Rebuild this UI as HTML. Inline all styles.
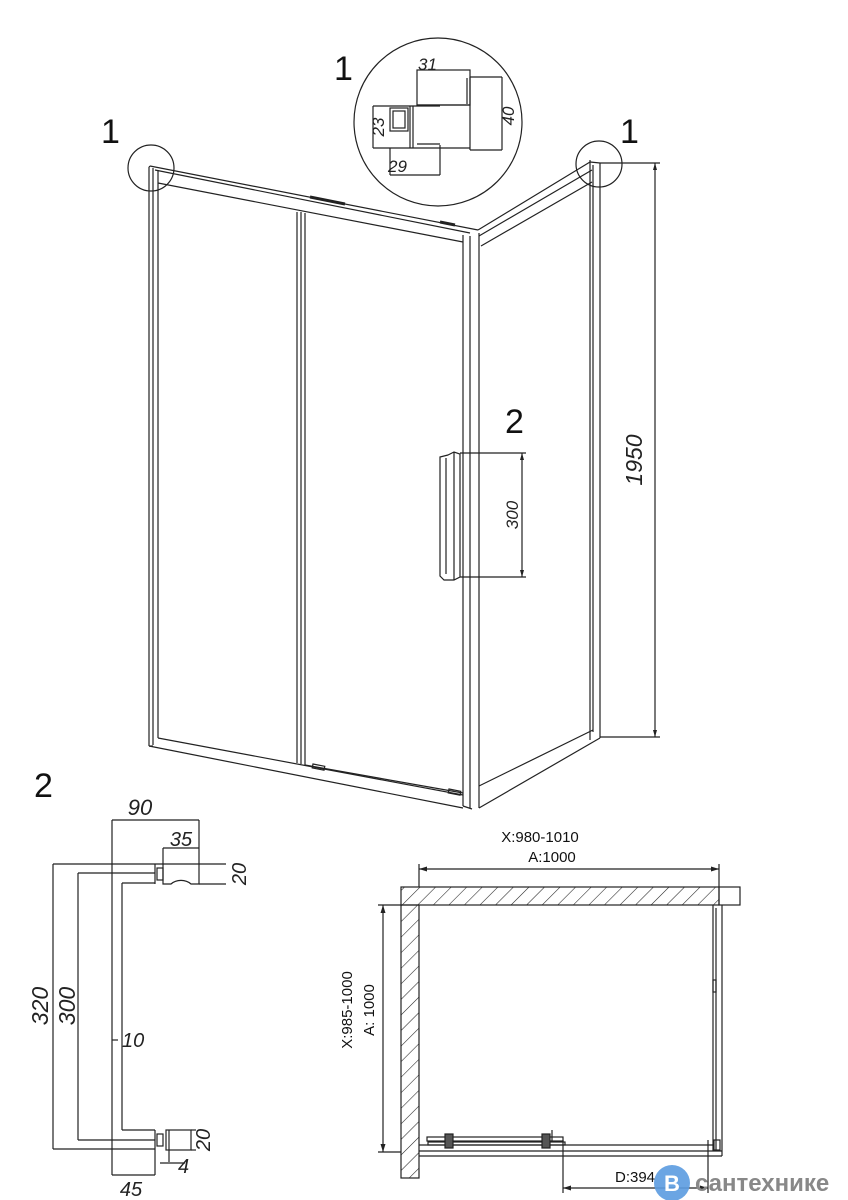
<!DOCTYPE html>
<html><head><meta charset="utf-8"><style>
html,body{margin:0;padding:0;background:#fff;}
svg{display:block;}
text{font-family:"Liberation Sans",sans-serif;}
.it{font-style:italic;font-size:17px;fill:#222;}
</style></head><body>
<svg width="848" height="1200" viewBox="0 0 848 1200" xmlns="http://www.w3.org/2000/svg">
<defs>
<pattern id="h" patternUnits="userSpaceOnUse" width="11" height="11" patternTransform="rotate(45)">
<line x1="0" y1="0" x2="0" y2="11" stroke="#222" stroke-width="1.1"/>
</pattern>
</defs>
<g fill="none" stroke="#222" stroke-width="1.2">
<line x1="149" y1="167" x2="149" y2="746"/>
<line x1="153" y1="168" x2="153" y2="745"/>
<line x1="158" y1="170" x2="158" y2="738"/>
<line x1="149" y1="746" x2="153" y2="746"/>
<line x1="150" y1="166" x2="478" y2="230"/>
<line x1="155" y1="170" x2="470" y2="233"/>
<line x1="158" y1="183" x2="463" y2="242"/>
<line x1="149" y1="167" x2="150" y2="166"/>
<line x1="310" y1="197" x2="345" y2="204" stroke-width="3"/>
<line x1="440" y1="222" x2="455" y2="225" stroke-width="3"/>
<line x1="297" y1="212" x2="297" y2="763"/>
<line x1="301" y1="212" x2="301" y2="764"/>
<line x1="305" y1="213" x2="305" y2="765"/>
<line x1="463" y1="235" x2="463" y2="806"/>
<line x1="470" y1="236" x2="470" y2="808"/>
<line x1="479" y1="233" x2="479" y2="808"/>
<line x1="463" y1="806" x2="472" y2="809"/>
<line x1="158" y1="738" x2="463" y2="795"/>
<line x1="149" y1="746" x2="463" y2="808"/>
<line x1="305" y1="765" x2="463" y2="793"/>
<rect x="313" y="764" width="12" height="4" transform="rotate(11 313 764)"/>
<rect x="449" y="789" width="12" height="4" transform="rotate(11 449 789)"/>
<line x1="478" y1="230" x2="590" y2="162"/>
<line x1="479" y1="236" x2="592" y2="170"/>
<line x1="481" y1="246" x2="592" y2="182"/>
<line x1="590" y1="162" x2="600" y2="163"/>
<line x1="590" y1="160" x2="590" y2="740"/>
<line x1="593" y1="165" x2="593" y2="732"/>
<line x1="600" y1="163" x2="600" y2="738"/>
<line x1="479" y1="786" x2="593" y2="730"/>
<line x1="479" y1="808" x2="600" y2="738"/>
<path d="M448 455 L454 452 L460 454 L460 577 L454 580 L444 580 L440 576 L440 457 L448 455 Z"/>
<line x1="446" y1="458" x2="446" y2="574"/>
<line x1="454" y1="452" x2="454" y2="580"/>
<line x1="460" y1="453" x2="526" y2="453"/>
<line x1="460" y1="577" x2="526" y2="577"/>
<line x1="522" y1="453" x2="522" y2="577"/>
<line x1="600" y1="163" x2="660" y2="163"/>
<line x1="600" y1="737" x2="660" y2="737"/>
<line x1="655" y1="163" x2="655" y2="737"/>
<circle cx="151" cy="168" r="23"/>
<circle cx="599" cy="164" r="23"/>
<circle cx="438" cy="122" r="84"/>
<rect x="417" y="70" width="53" height="35"/>
<line x1="470" y1="77" x2="502" y2="77"/>
<line x1="470" y1="150" x2="502" y2="150"/>
<line x1="502" y1="77" x2="502" y2="150"/>
<line x1="470" y1="77" x2="470" y2="150"/>
<line x1="467" y1="78" x2="467" y2="104"/>
<line x1="373" y1="106" x2="440" y2="106"/>
<line x1="373" y1="148" x2="470" y2="148"/>
<line x1="373" y1="106" x2="373" y2="148"/>
<rect x="390" y="108" width="18" height="23"/>
<rect x="393" y="111" width="12" height="17"/>
<line x1="410" y1="106" x2="410" y2="148"/>
<line x1="413" y1="106" x2="413" y2="148"/>
<line x1="390" y1="148" x2="390" y2="175"/>
<line x1="440" y1="145" x2="440" y2="175"/>
<line x1="390" y1="175" x2="440" y2="175"/>
<line x1="417" y1="144" x2="440" y2="144"/>
<line x1="417" y1="105" x2="470" y2="105"/>
<line x1="112" y1="820" x2="199" y2="820"/>
<line x1="112" y1="820" x2="112" y2="1175"/>
<line x1="199" y1="820" x2="199" y2="864"/>
<line x1="163" y1="848" x2="199" y2="848"/>
<line x1="163" y1="848" x2="163" y2="864"/>
<line x1="53" y1="864" x2="226" y2="864"/>
<line x1="199" y1="884" x2="226" y2="884"/>
<line x1="53" y1="864" x2="53" y2="1149"/>
<line x1="53" y1="1149" x2="155" y2="1149"/>
<line x1="78" y1="873" x2="155" y2="873"/>
<line x1="78" y1="873" x2="78" y2="1140"/>
<line x1="78" y1="1140" x2="155" y2="1140"/>
<line x1="122" y1="883" x2="155" y2="883"/>
<line x1="122" y1="883" x2="122" y2="1130"/>
<line x1="122" y1="1130" x2="155" y2="1130"/>
<line x1="155" y1="864" x2="155" y2="884"/>
<line x1="155" y1="1130" x2="155" y2="1175"/>
<rect x="157" y="868" width="6" height="12"/>
<path d="M163 864 L163 884 L171 884 A14 12 0 0 1 191 884 L199 884 L199 864"/>
<rect x="157" y="1134" width="6" height="12"/>
<rect x="166" y="1130" width="25" height="20"/>
<line x1="169" y1="1130" x2="169" y2="1162"/>
<line x1="191" y1="1130" x2="196" y2="1130"/>
<line x1="191" y1="1150" x2="196" y2="1150"/>
<line x1="160" y1="1163" x2="185" y2="1163"/>
<line x1="112" y1="1175" x2="155" y2="1175"/>
<line x1="112" y1="1040" x2="118" y2="1040"/>
<rect x="401" y="887" width="318" height="18" fill="url(#h)"/>
<rect x="719" y="887" width="21" height="18"/>
<rect x="401" y="905" width="18" height="273" fill="url(#h)"/>
<line x1="419" y1="869" x2="719" y2="869"/>
<line x1="419" y1="864" x2="419" y2="887"/>
<line x1="719" y1="864" x2="719" y2="887"/>
<line x1="378" y1="905" x2="401" y2="905"/>
<line x1="378" y1="1152" x2="401" y2="1152"/>
<line x1="383" y1="905" x2="383" y2="1152"/>
<line x1="713" y1="905" x2="713" y2="1151"/>
<line x1="716" y1="908" x2="716" y2="1151"/>
<line x1="722" y1="905" x2="722" y2="1156"/>
<line x1="419" y1="1145" x2="713" y2="1145"/>
<line x1="419" y1="1151" x2="722" y2="1151"/>
<line x1="419" y1="1156" x2="722" y2="1156"/>
<rect x="427" y="1137" width="136" height="4"/>
<rect x="428" y="1142" width="137" height="3"/>
<rect x="445" y="1134" width="8" height="14" fill="#555"/>
<rect x="542" y="1134" width="8" height="14" fill="#555"/>
<line x1="552" y1="1130" x2="552" y2="1142"/>
<line x1="563" y1="1140" x2="563" y2="1193"/>
<line x1="708" y1="1140" x2="708" y2="1193"/>
<line x1="563" y1="1188" x2="708" y2="1188"/>
<rect x="714" y="1140" width="6" height="10"/>
<rect x="713" y="980" width="3" height="12"/>
</g>
<g fill="#222">
<path d="M419 869 l8 -2.5 v5 z"/><path d="M719 869 l-8 -2.5 v5 z"/>
<path d="M383 905 l-2.5 8 h5 z"/><path d="M383 1152 l-2.5 -8 h5 z"/>
<path d="M563 1188 l8 -2.5 v5 z"/><path d="M708 1188 l-8 -2.5 v5 z"/>
<path d="M522 453 l-2 7 h4 z"/><path d="M522 577 l-2 -7 h4 z"/>
<path d="M655 163 l-2 7 h4 z"/><path d="M655 737 l-2 -7 h4 z"/>
</g>
<g font-size="34" fill="#111">
<text x="334" y="80">1</text>
<text x="101" y="143">1</text>
<text x="620" y="143">1</text>
<text x="505" y="433">2</text>
<text x="34" y="797">2</text>
</g>
<text class="it" x="418" y="70">31</text>
<text class="it" x="388" y="172">29</text>
<text class="it" transform="translate(514 116) rotate(-90)" text-anchor="middle">40</text>
<text class="it" transform="translate(384 127) rotate(-90)" text-anchor="middle">23</text>
<text class="it" transform="translate(518 515) rotate(-90)" text-anchor="middle">300</text>
<text class="it" style="font-size:23px" transform="translate(642 460) rotate(-90)" text-anchor="middle">1950</text>
<text class="it" style="font-size:22px" x="140" y="815" text-anchor="middle">90</text>
<text class="it" style="font-size:20px" x="181" y="846" text-anchor="middle">35</text>
<text class="it" style="font-size:20px" transform="translate(246 874) rotate(-90)" text-anchor="middle">20</text>
<text class="it" style="font-size:20px" transform="translate(210 1140) rotate(-90)" text-anchor="middle">20</text>
<text class="it" style="font-size:23px" transform="translate(48 1006) rotate(-90)" text-anchor="middle">320</text>
<text class="it" style="font-size:23px" transform="translate(75 1006) rotate(-90)" text-anchor="middle">300</text>
<text class="it" style="font-size:20px" x="122" y="1047">10</text>
<text class="it" style="font-size:20px" x="178" y="1173">4</text>
<text class="it" style="font-size:20px" x="131" y="1196" text-anchor="middle">45</text>
<g font-size="15" fill="#111">
<text x="540" y="842" text-anchor="middle">X:980-1010</text>
<text x="552" y="862" text-anchor="middle">A:1000</text>
<text transform="translate(352 1010) rotate(-90)" text-anchor="middle">X:985-1000</text>
<text transform="translate(374 1010) rotate(-90)" text-anchor="middle">A: 1000</text>
<text x="615" y="1182">D:394</text>
</g>
<circle cx="672" cy="1183" r="18" fill="#5b9be0" opacity="0.9"/>
<text x="672" y="1191" font-size="22" font-weight="bold" fill="#fff" text-anchor="middle">B</text>
<text x="695" y="1191" font-size="24" font-weight="bold" fill="#888">сантехнике</text>
</svg>
</body></html>
